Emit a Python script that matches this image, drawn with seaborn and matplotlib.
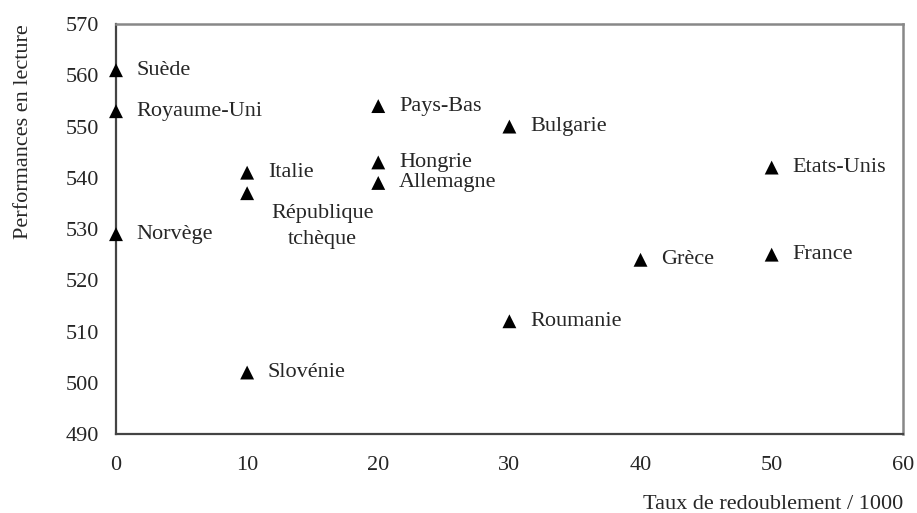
import matplotlib
matplotlib.use("Agg")
import pandas as pd
import matplotlib.pyplot as plt
import seaborn as sns

# Données
pays = ["Suède", "Royaume-Uni", "Norvège", "Italie", "République\ntchèque", "Slovénie",
        "Pays-Bas", "Hongrie", "Allemagne", "Bulgarie", "Roumanie", "Grèce",
        "Etats-Unis", "France"]
redoublement = [0, 0, 0, 10, 10, 10, 20, 20, 20, 30, 30, 40, 50, 50]
lecture = [561, 553, 529, 541, 537, 502, 554, 543, 539, 550, 512, 524, 542, 525]

df = pd.DataFrame({"pays": pays, "redoublement": redoublement, "lecture": lecture})

sns.set_style("white")
plt.rcParams["font.family"] = ["Liberation Serif", "DejaVu Serif"]

fig = plt.figure(figsize=(9.17, 5.13), dpi=100)
ax = fig.add_axes([0.1265, 0.154, 0.858, 0.799])

sns.scatterplot(data=df, x="redoublement", y="lecture", marker="^", color="black",
                s=100, edgecolor="none", ax=ax, zorder=3, clip_on=False)

fs = 16
# décalages des étiquettes (en points)
decalage = {"République\ntchèque": (54, -24)}
for p, x, y in zip(df["pays"], df["redoublement"], df["lecture"]):
    if p in decalage:
        ax.annotate(p, (x, y), xytext=decalage[p], textcoords="offset points",
                    ha="center", va="center", fontsize=fs, linespacing=1.5)
    else:
        ax.annotate(p, (x, y), xytext=(15, 0), textcoords="offset points",
                    ha="left", va="center", fontsize=fs)

ax.set_xlim(0, 60)
ax.set_ylim(490, 570)
ax.set_xticks(range(0, 61, 10))
ax.set_yticks(range(490, 571, 10))
ax.tick_params(axis="both", labelsize=fs, direction="out", length=5, width=1.2,
               color="#555555")
ax.tick_params(axis="x", pad=11)
ax.tick_params(axis="y", pad=7)

for side in ["left", "bottom"]:
    ax.spines[side].set_color("#444444")
    ax.spines[side].set_linewidth(1.6)
for side in ["top", "right"]:
    ax.spines[side].set_color("#888888")
    ax.spines[side].set_linewidth(1.8)

ax.set_xlabel("Taux de redoublement / 1000", fontsize=fs, loc="right", labelpad=14)
ax.set_ylabel("Performances en lecture", fontsize=fs, loc="top", labelpad=24)

plt.savefig("out.png", dpi=100)
